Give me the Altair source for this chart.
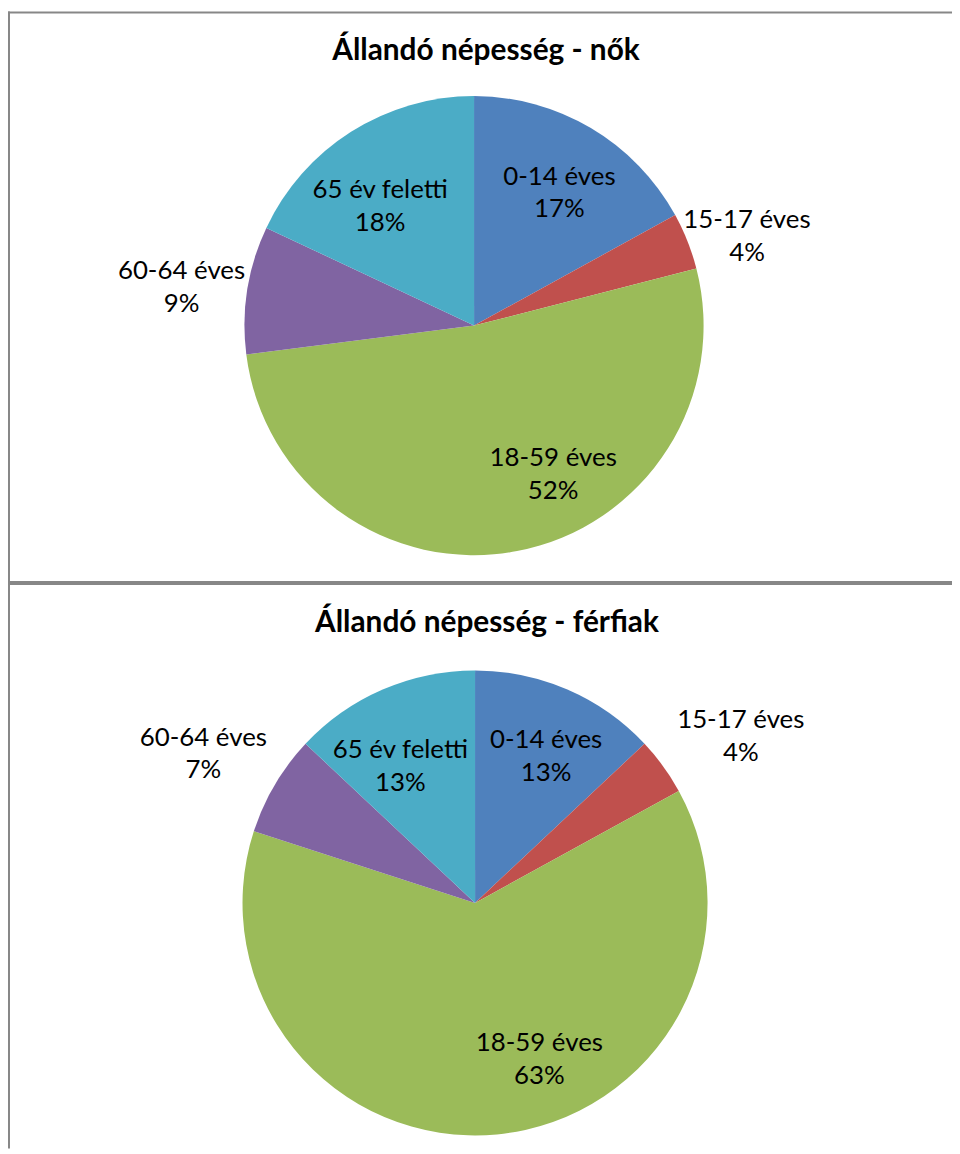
import math
import altair as alt
import pandas as pd

# ---- data ----
CATEGORIES = ["0-14 éves", "15-17 éves", "18-59 éves", "60-64 éves", "65 év feletti"]
WOMEN = [17, 4, 52, 9, 18]
MEN = [13, 4, 63, 7, 13]
PANELS = ["nők", "férfiak"]
TITLES = ["Állandó népesség - nők", "Állandó népesség - férfiak"]
COLORS = ["#4F81BD", "#C0504D", "#9BBB59", "#8064A2", "#4BACC6"]

rows = []
for panel, vals in zip(PANELS, [WOMEN, MEN]):
    for i, (c, v) in enumerate(zip(CATEGORIES, vals)):
        rows.append({"panel": panel, "category": c, "value": v, "order": i})
df = pd.DataFrame(rows)
titles_df = pd.DataFrame({"panel": PANELS, "title": TITLES})

# ---- layout / style ----
W, H = 950, 1144
FONT = "Lato"
FS = 26
LH = 33
BORDER = "#878787"

LAYOUT = {
    "nők": dict(cx=469, cy=316, r=231, tx=481, ty=49,
                labels={"0-14 éves": (159, 5, -13),
                        "15-17 éves": (289, 6, 0),
                        "18-59 éves": (169, 48, -33),
                        "60-64 éves": (297, -1, -8),
                        "65 év feletti": (152, -13, -8)}),
    "férfiak": dict(cx=470, cy=897, r=234, tx=482, ty=624,
                    labels={"0-14 éves": (165, 6, -12),
                            "15-17 éves": (317, 11, 2),
                            "18-59 éves": (167, 49, -25),
                            "60-64 éves": (313, -4, -7),
                            "65 év feletti": (159, -12, -8)}),
}

theta_scale = alt.Scale(domain=[0, 100], range=[0, 2 * math.pi])
color_scale = alt.Scale(domain=CATEGORIES, range=COLORS)

layers = []

# borders
dummy = pd.DataFrame({"a": [0]})
layers.append(alt.Chart(dummy).mark_rule(color=BORDER, strokeWidth=2).encode(
    x=alt.value(0), x2=alt.value(W), y=alt.value(1)))
layers.append(alt.Chart(dummy).mark_rule(color=BORDER, strokeWidth=2).encode(
    x=alt.value(1), y=alt.value(0), y2=alt.value(H)))
layers.append(alt.Chart(dummy).mark_rule(color=BORDER, strokeWidth=4).encode(
    x=alt.value(0), x2=alt.value(W), y=alt.value(575)))

for panel in PANELS:
    L = LAYOUT[panel]
    base = alt.Chart(df).transform_filter(alt.datum.panel == panel)
    pie = base.mark_arc(outerRadius=L["r"]).encode(
        theta=alt.Theta("value:Q", stack=True, scale=theta_scale),
        color=alt.Color("category:N", scale=color_scale, legend=None),
        order=alt.Order("order:Q", sort="ascending"),
        x=alt.value(L["cx"]),
        y=alt.value(L["cy"]),
    )
    layers.append(pie)

    lbl_base = base.transform_window(
        cum="sum(value)",
        sort=[alt.SortField("order", order="ascending")],
        frame=[None, 0],
    ).transform_calculate(
        mid="datum.cum - datum.value / 2",
        label="datum.category + '\\n' + datum.value + '%'",
    )
    for cat in CATEGORIES:
        R, dx, dy = L["labels"][cat]
        t = lbl_base.transform_filter(alt.datum.category == cat).mark_text(
            radius=R, dx=dx, dy=dy, font=FONT, fontSize=FS, lineBreak="\n",
            lineHeight=LH, align="center", baseline="middle", color="#000000",
        ).encode(
            theta=alt.Theta("mid:Q", stack=False, scale=theta_scale),
            text="label:N",
            x=alt.value(L["cx"]),
            y=alt.value(L["cy"]),
        )
        layers.append(t)

    title = alt.Chart(titles_df).transform_filter(alt.datum.panel == panel).mark_text(
        font=FONT, fontSize=30, fontWeight="bold", align="center",
        baseline="alphabetic", color="#000000",
    ).encode(text="title:N", x=alt.value(L["tx"]), y=alt.value(L["ty"]))
    layers.append(title)

chart = alt.layer(*layers).properties(
    width=W, height=H, padding=0,
    autosize=alt.AutoSizeParams(type="none"),
).configure_view(stroke=None)

chart.save("out.html", embed_options={"renderer": "svg", "actions": False})
